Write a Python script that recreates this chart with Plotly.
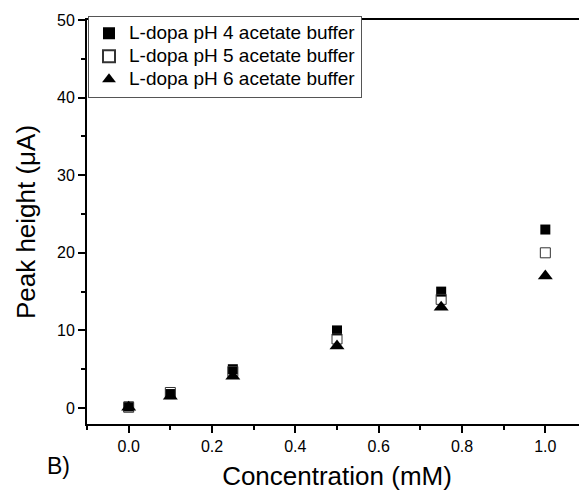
import plotly.graph_objects as go

conc = [0.0, 0.1, 0.25, 0.5, 0.75, 1.0]
ph4 = [0.2, 1.8, 5.0, 10.0, 15.0, 23.0]
ph5 = [0.1, 2.0, 4.7, 8.9, 14.0, 20.0]
ph6 = [0.1, 1.5, 4.1, 8.0, 13.0, 17.0]
names = ["L-dopa pH 4 acetate buffer", "L-dopa pH 5 acetate buffer", "L-dopa pH 6 acetate buffer"]
xticks = [0, 0.2, 0.4, 0.6, 0.8, 1.0]
xticktext = ["0.0", "0.2", "0.4", "0.6", "0.8", "1.0"]
yticks = [0, 10, 20, 30, 40, 50]


def lg(s):
    return '<span style="font-size:19px">' + s + '</span>'


fig = go.Figure()
fig.add_trace(go.Scatter(x=conc, y=ph4, mode="markers", name=lg(names[0]),
                         marker=dict(symbol="square", size=10, color="black")))
fig.add_trace(go.Scatter(x=conc, y=ph5, mode="markers", name=lg(names[1]),
                         marker=dict(symbol="square-open", size=10, color="#333333", line=dict(width=1))))
fig.add_trace(go.Scatter(x=conc, y=ph6, mode="markers", name=lg(names[2]),
                         marker=dict(symbol="triangle-up", size=13, color="black")))

font = "Liberation Sans, Arial, sans-serif"
fig.update_layout(
    width=579, height=483,
    margin=dict(l=79, r=0, t=12, b=67),
    plot_bgcolor="white", paper_bgcolor="white",
    font=dict(family=font, color="black"),
    showlegend=True,
    legend=dict(x=0.002, y=1.0105, xanchor="left", yanchor="top",
                bgcolor="white", bordercolor="#555555", borderwidth=1,
                font=dict(size=15.4, family=font), itemsizing="constant",
                tracegroupgap=0),
    xaxis=dict(range=[-0.1, 1.1], tickvals=xticks, ticktext=xticktext,
               ticks="outside", ticklen=7, tickwidth=1.5, tickcolor="black",
               minor=dict(dtick=0.1, tick0=0, ticks="outside", ticklen=4, tickwidth=1.5, tickcolor="black"),
               showline=True, linecolor="black", linewidth=2, mirror=True,
               showgrid=False, zeroline=False, automargin=False,
               tickfont=dict(size=16),
               title=dict(text="Concentration (mM)", font=dict(size=26), standoff=15)),
    yaxis=dict(range=[-2.06, 50], tickvals=yticks,
               ticks="outside", ticklen=7, tickwidth=1.5, tickcolor="black",
               minor=dict(dtick=5, tick0=0, ticks="outside", ticklen=4, tickwidth=1.5, tickcolor="black"),
               showline=True, linecolor="black", linewidth=2,
               showgrid=False, zeroline=False, automargin=False,
               tickfont=dict(size=16),
               title=dict(text="Peak height (μA)", font=dict(size=26), standoff=14)),
)
fig.add_annotation(text="B)", xref="paper", yref="paper", x=-0.084, y=-0.104,
                   xanchor="left", yanchor="middle", showarrow=False,
                   font=dict(size=23, family=font))
fig.write_html("out.html")
